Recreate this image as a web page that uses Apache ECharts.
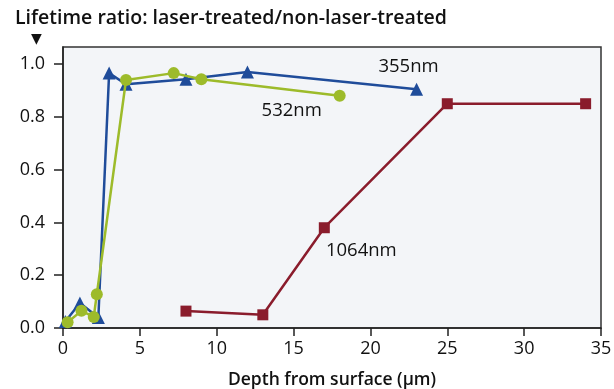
<!DOCTYPE html>
<html><head><meta charset="utf-8">
<script src="https://cdn.jsdelivr.net/npm/echarts@6/dist/echarts.min.js"></script>
<style>html,body{margin:0;padding:0;background:#fff;}#c{width:614px;height:389px;}</style>
</head><body><div id="c"></div>
<script>
const xTicks = [0, 5, 10, 15, 20, 25, 30, 35];
const yTicks = [0, 0.2, 0.4, 0.6, 0.8, 1.0];
const nm355 = [[0.15, 0.025], [1.1, 0.095], [2.3, 0.04], [3.0, 0.966], [4.1, 0.924], [8.0, 0.943], [12.0, 0.97], [23.0, 0.905]];
const nm532 = [[0.3, 0.022], [1.2, 0.065], [2.0, 0.042], [2.2, 0.128], [4.1, 0.94], [7.2, 0.966], [9.0, 0.943], [18.0, 0.88]];
const nm1064 = [[8.0, 0.064], [13.0, 0.05], [17.0, 0.38], [25.0, 0.85], [34.0, 0.85]];
const titleText = 'Lifetime ratio: laser-treated/non-laser-treated';
const xTitle = 'Depth from surface (µm)';

const font = '"Open Sans", sans-serif';
const chart = echarts.init(document.getElementById('c'));
function withLabel(arr, idx, text, pos, offset) {
  return arr.map((p, i) => i === idx ? {value: p, label: {show: true, formatter: text, position: pos, offset: offset, color: '#111', fontSize: 18.5, fontFamily: font}} : p);
}
chart.setOption({
  animation: false,
  backgroundColor: '#fff',
  title: [{text: titleText, left: 10, top: 3, textStyle: {fontFamily: font, fontSize: 19.5, fontWeight: 600, color: '#111'}},
          {text: '▼', left: 26, top: 27, textStyle: {fontFamily: '"DejaVu Sans", sans-serif', fontSize: 14, color: '#111', fontWeight: 'normal'}}],
  grid: {left: 63, right: 13, top: 47, bottom: 61, outerBoundsMode: 'none', containLabel: false, show: true, backgroundColor: '#f3f5f8', borderColor: '#333', borderWidth: 1.5},
  xAxis: {type: 'value', min: 0, max: 35, interval: 5,
    name: xTitle, nameLocation: 'middle', nameGap: 43,
    nameTextStyle: {fontFamily: font, fontSize: 17.5, fontWeight: 600, color: '#111'},
    axisLine: {lineStyle: {color: '#222', width: 1.5}},
    axisTick: {show: true, length: 8, lineStyle: {color: '#222', width: 1.5}},
    axisLabel: {fontFamily: font, fontSize: 18, color: '#111', margin: 12},
    splitLine: {show: false}},
  yAxis: {type: 'value', min: 0, max: 1.065,
    axisLine: {show: true, lineStyle: {color: '#222', width: 1.5}},
    axisTick: {show: true, length: 9, customValues: yTicks, lineStyle: {color: '#222', width: 1.5}},
    axisLabel: {fontFamily: font, fontSize: 18, color: '#111', margin: 18, customValues: yTicks, formatter: v => v.toFixed(1)},
    splitLine: {show: false}},
  series: [
    {name: '1064nm', type: 'line', data: withLabel(nm1064, 2, '1064nm', 'bottom', [37, 3]),
      symbol: 'rect', symbolSize: 11, lineStyle: {color: '#8a1c2c', width: 2.5}, itemStyle: {color: '#8a1c2c'}, z: 2},
    {name: '355nm', type: 'line', data: withLabel(nm355, 7, '355nm', 'top', [-8, -1]),
      symbol: 'triangle', symbolSize: 13, lineStyle: {color: '#1f4c9a', width: 2.5}, itemStyle: {color: '#1f4c9a'}, z: 3},
    {name: '532nm', type: 'line', data: withLabel(nm532, 7, '532nm', 'bottom', [-48, -6]),
      symbol: 'circle', symbolSize: 12, lineStyle: {color: '#9dbb2a', width: 2.5}, itemStyle: {color: '#9dbb2a'}, z: 4}
  ]
});
</script></body></html>
